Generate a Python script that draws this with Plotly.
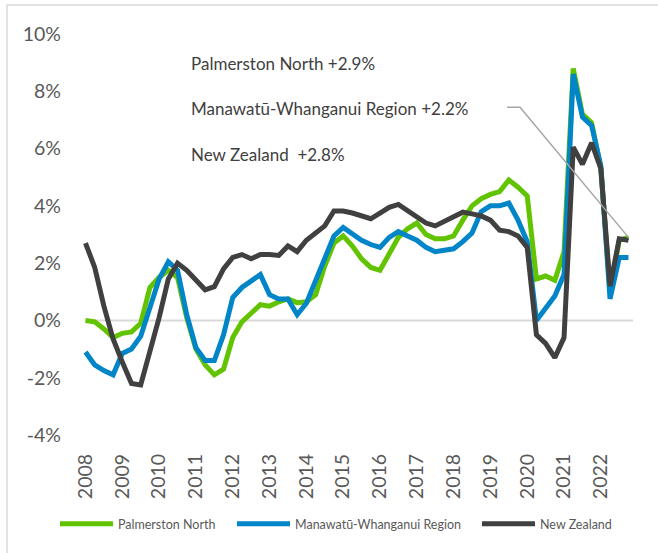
import plotly.graph_objects as go

years = list(range(2008, 2023))
year_labels = [str(y) for y in years]
y_ticks = [-4, -2, 0, 2, 4, 6, 8, 10]
y_tick_labels = [f"{v}%" for v in y_ticks]

palmerston_north = [
    0.0, -0.05, -0.3, -0.6, -0.45, -0.4, -0.1, 1.15,
    1.5, 1.75, 1.5, 0.1, -1.0, -1.55, -1.9, -1.7,
    -0.6, -0.05, 0.25, 0.55, 0.5, 0.65, 0.75, 0.62,
    0.65, 0.9, 1.9, 2.7, 2.95, 2.6, 2.15, 1.85,
    1.75, 2.35, 2.9, 3.2, 3.4, 3.0, 2.85, 2.85,
    2.95, 3.5, 4.0, 4.25, 4.4, 4.5, 4.9, 4.65,
    4.35, 1.45, 1.55, 1.4, 2.4, 8.8, 7.2, 6.9,
    5.3, 1.0, 2.8, 2.9,
]
manawatu_whanganui = [
    -1.1, -1.55, -1.75, -1.9, -1.15, -1.0, -0.55, 0.5,
    1.45, 2.05, 1.75, 0.2, -0.95, -1.4, -1.4, -0.5,
    0.8, 1.15, 1.35, 1.6, 0.9, 0.75, 0.75, 0.2,
    0.6, 1.4, 2.2, 2.95, 3.25, 3.0, 2.8, 2.65,
    2.55, 2.9, 3.1, 2.95, 2.8, 2.55, 2.4, 2.45,
    2.5, 2.75, 3.05, 3.8, 4.0, 4.0, 4.1, 3.5,
    2.75, 0.0, 0.4, 0.85, 1.6, 8.6, 7.1, 6.8,
    5.4, 0.75, 2.2, 2.2,
]
new_zealand = [
    2.7, 1.85, 0.5, -0.65, -1.45, -2.2, -2.25, -1.15,
    0.1, 1.45, 2.0, 1.75, 1.42, 1.07, 1.18, 1.8,
    2.2, 2.3, 2.15, 2.3, 2.3, 2.27, 2.6, 2.4,
    2.8, 3.05, 3.3, 3.82, 3.82, 3.75, 3.65, 3.55,
    3.75, 3.95, 4.05, 3.85, 3.6, 3.4, 3.3, 3.45,
    3.6, 3.78, 3.72, 3.65, 3.5, 3.15, 3.1, 2.95,
    2.55, -0.5, -0.8, -1.3, -0.6, 6.05, 5.45, 6.2,
    5.3, 1.2, 2.85, 2.8,
]

# quarterly positions (Q1..Q4 of each year)
x = [y + q / 4 for y in years for q in range(4)]

GREEN = "#62C300"
BLUE = "#0085C8"
DARK = "#404040"
FONT = "Lato"

fig = go.Figure()
series = [
    ("Palmerston North", palmerston_north, GREEN, "legend"),
    ("Manawatū-Whanganui Region", manawatu_whanganui, BLUE, "legend2"),
    ("New Zealand", new_zealand, DARK, "legend3"),
]
for name, vals, col, lg in series:
    fig.add_trace(go.Scatter(
        x=x, y=vals, mode="lines", name=name,
        line=dict(color=col, width=5),
        legend=lg, hoverinfo="skip",
    ))

W, H = 658, 553
ml, mr, mt, mb = 78, 18, 34, 118
px_per_year = 36.81
x0_px = 85.5
xmin = 2008 - (x0_px - ml) / px_per_year
xmax = 2008 + (W - mr - x0_px) / px_per_year

plot_w = W - ml - mr
plot_h = H - mt - mb


def paper_x(px):
    return (px - ml) / plot_w


def paper_y(py):
    return (H - mb - py) / plot_h


def data_x(px):
    return 2008 + (px - x0_px) / px_per_year


def data_y(py):
    return (320.7 - py) / 28.71


shapes = [
    # zero line
    dict(type="line", xref="x", yref="y", x0=x[0], x1=x[-1] + 0.125, y0=0, y1=0,
         line=dict(color="#D9D9D9", width=2), layer="below"),
    # outer frame
    dict(type="rect", xref="paper", yref="paper",
         x0=paper_x(7), x1=paper_x(672), y0=paper_y(5), y1=paper_y(575),
         line=dict(color="#D9D9D9", width=1.5), fillcolor="rgba(0,0,0,0)"),
    # connector from label to end point
    dict(type="path", xref="x", yref="y",
         path=(f"M{data_x(507)},{data_y(107)} L{data_x(520)},{data_y(107)} "
               f"L{x[-1]},{palmerston_north[-1]}"),
         line=dict(color="#A6A6A6", width=1.5)),
]

label_texts = [
    f"Palmerston North +{palmerston_north[-1]:.1f}%",
    f"Manawatū-Whanganui Region +{manawatu_whanganui[-1]:.1f}%",
    f"New Zealand \u00a0+{new_zealand[-1]:.1f}%",
]
label_py = [63, 108, 154]
annotations = [
    dict(text=t, xref="x", yref="y", x=data_x(189), y=data_y(py),
         xanchor="left", yanchor="middle", showarrow=False,
         font=dict(family=FONT, size=17, color="#404040"))
    for t, py in zip(label_texts, label_py)
]

ITEM_W = 53
TEXT_OFF = ITEM_W + 12
leg_common = dict(orientation="h", xref="container", yref="container",
                  yanchor="middle", y=1 - 524 / H, xanchor="left",
                  bgcolor="rgba(0,0,0,0)", borderwidth=0, itemwidth=ITEM_W,
                  font=dict(family=FONT, size=12.5, color="#595959"))

fig.update_layout(
    width=W, height=H,
    margin=dict(l=ml, r=mr, t=mt, b=mb, pad=0, autoexpand=False),
    paper_bgcolor="white", plot_bgcolor="white",
    font=dict(family=FONT, color="#595959"),
    showlegend=True,
    legend=dict(x=(120 - TEXT_OFF) / W, **leg_common),
    legend2=dict(x=(297 - TEXT_OFF) / W, **leg_common),
    legend3=dict(x=(542 - TEXT_OFF) / W, **leg_common),
    xaxis=dict(range=[xmin, xmax], tickvals=years, ticktext=year_labels,
               tickangle=-90, showgrid=False, zeroline=False, showline=False,
               ticks="", ticklabelstandoff=14, automargin=False,
               tickfont=dict(family=FONT, size=19.5, color="#595959")),
    yaxis=dict(range=[-4, 10], tickvals=y_ticks, ticktext=y_tick_labels,
               showgrid=False, zeroline=False, showline=False, ticks="",
               ticklabelstandoff=16, automargin=False,
               tickfont=dict(family=FONT, size=19.5, color="#595959")),
    shapes=shapes,
    annotations=annotations,
)

# remove the browser's default body margin so the figure sits at the page origin
fig.write_html("out.html", config={"displayModeBar": False},
               post_script="document.body.style.margin='0px';")
